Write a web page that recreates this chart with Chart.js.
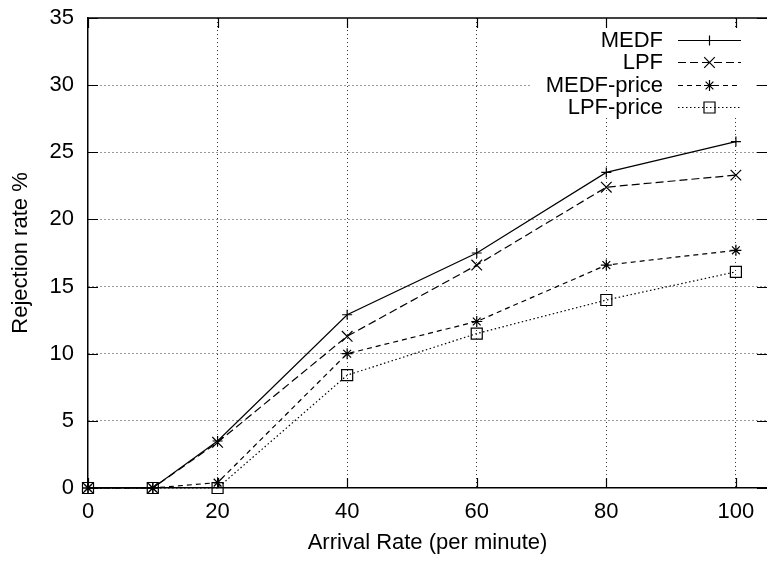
<!DOCTYPE html>
<html><head><meta charset="utf-8">
<script src="https://cdn.jsdelivr.net/npm/chart.js@4.4.0/dist/chart.umd.min.js"></script>
<style>html,body{margin:0;padding:0;background:#fff;overflow:hidden}canvas{display:block}</style>
</head><body>
<canvas id="c" width="767" height="562"></canvas>
<script>
const arrivalRates = [0, 10, 20, 40, 60, 80, 100];
const medf = [0, 0, 3.5, 12.9, 17.5, 23.5, 25.8];
const lpf = [0, 0, 3.4, 11.3, 16.6, 22.4, 23.3];
const medfPrice = [0, 0, 0.4, 10.0, 12.4, 16.6, 17.7];
const lpfPrice = [0, 0, 0, 8.4, 11.5, 14.0, 16.1];
const seriesLabels = ['MEDF', 'LPF', 'MEDF-price', 'LPF-price'];
const xTickValues = [0, 20, 40, 60, 80, 100];
const yTickValues = [0, 5, 10, 15, 20, 25, 30, 35];
const xTitle = 'Arrival Rate (per minute)';
const yTitle = 'Rejection rate %';

const FONT = {family: "'Liberation Sans', Arial, sans-serif", size: 22};
const pts = arr => arrivalRates.map((x, i) => ({x: x, y: arr[i]}));

const styles = [
  {borderDash: [], pointStyle: 'cross', pointRadius: 5},
  {borderDash: [8, 4], pointStyle: 'crossRot', pointRadius: 7.5},
  {borderDash: [5, 4], pointStyle: 'star', pointRadius: 5.5},
  {borderDash: [1.5, 2.5], pointStyle: 'rect', pointRadius: 7.8}
];
const seriesData = [medf, lpf, medfPrice, lpfPrice];

const datasets = seriesData.map((arr, i) => ({
  label: seriesLabels[i],
  data: pts(arr),
  borderColor: '#000',
  borderWidth: 1.2,
  borderDash: styles[i].borderDash,
  pointStyle: styles[i].pointStyle,
  pointRadius: styles[i].pointRadius,
  pointBorderColor: '#000',
  pointBackgroundColor: 'rgba(0,0,0,0)',
  pointBorderWidth: 1.2,
  tension: 0,
  fill: false,
  clip: false
}));

const gnuplotFrame = {
  id: 'gnuplotFrame',
  afterDraw(chart) {
    const {ctx, chartArea: a, scales} = chart;
    const x = scales.x, y = scales.y;
    ctx.save();
    ctx.setLineDash([]);
    ctx.strokeStyle = '#000';
    ctx.lineWidth = 1.5;
    ctx.beginPath();
    ctx.moveTo(a.left, a.top); ctx.lineTo(a.right, a.top);
    ctx.stroke();
    ctx.lineWidth = 1.2;
    ctx.beginPath();
    x.ticks.forEach(t => {
      const px = Math.round(x.getPixelForValue(t.value)) + 0.5;
      ctx.moveTo(px, a.bottom); ctx.lineTo(px, a.bottom - 10);
      ctx.moveTo(px, a.top); ctx.lineTo(px, a.top + 10);
    });
    y.ticks.forEach(t => {
      const py = Math.round(y.getPixelForValue(t.value)) + 0.5;
      ctx.moveTo(a.left, py); ctx.lineTo(a.left + 10, py);
      ctx.moveTo(a.right, py); ctx.lineTo(a.right - 10, py);
    });
    ctx.stroke();

    // key box (gnuplot style, opaque)
    ctx.fillStyle = '#fff';
    ctx.fillRect(530, 29, 225, 88);
    ctx.font = '22px ' + FONT.family;
    ctx.textAlign = 'right';
    ctx.textBaseline = 'middle';
    chart.data.datasets.forEach((ds, i) => {
      const ry = 39.5 + 22.5 * i;
      ctx.fillStyle = '#000';
      ctx.fillText(ds.label, 663, ry + 1);
      ctx.strokeStyle = '#000';
      ctx.lineWidth = ds.borderWidth;
      ctx.setLineDash(ds.borderDash);
      ctx.beginPath();
      ctx.moveTo(678, Math.round(ry) + 0.5); ctx.lineTo(741, Math.round(ry) + 0.5);
      ctx.stroke();
      ctx.setLineDash([]);
      ctx.fillStyle = 'rgba(0,0,0,0)';
      ctx.lineWidth = ds.pointBorderWidth;
      Chart.helpers.drawPoint(ctx, {pointStyle: ds.pointStyle, radius: ds.pointRadius, rotation: 0, borderWidth: ds.pointBorderWidth}, 709.5, Math.round(ry) + 0.5);
    });
    ctx.restore();
  }
};

const gridColor = edgeVals => c => (c.tick && edgeVals.includes(c.tick.value)) ? 'rgba(0,0,0,0)' : 'rgba(0,0,0,0.8)';

new Chart(document.getElementById('c'), {
  type: 'line',
  data: {datasets: datasets},
  options: {
    responsive: false,
    animation: false,
    events: [],
    layout: {autoPadding: false, padding: {top: 18, left: 0, right: 0, bottom: 0}},
    plugins: {legend: {display: false}, tooltip: {enabled: false}},
    scales: {
      x: {
        type: 'linear', min: 0, max: 104.8,
        afterBuildTicks: s => { s.ticks = xTickValues.map(v => ({value: v})); },
        afterFit: s => { s.height = 74; s.paddingLeft = 0; s.paddingRight = 0; },
        grid: {color: gridColor([0]), lineWidth: 1, drawTicks: false},
        border: {display: true, color: '#000', width: 1.5, dash: [1, 3]},
        ticks: {color: '#000', font: FONT, padding: 11, maxRotation: 0, autoSkip: false},
        title: {display: true, text: xTitle, color: '#000', font: FONT, padding: {top: 0, bottom: 6}}
      },
      y: {
        type: 'linear', min: 0, max: 35,
        afterBuildTicks: s => { s.ticks = yTickValues.map(v => ({value: v})); },
        afterFit: s => { s.width = 88; s.paddingTop = 0; s.paddingBottom = 0; },
        grid: {color: gridColor([0, 35]), lineWidth: 1, drawTicks: false},
        border: {display: true, color: '#000', width: 1.5, dash: [1, 3]},
        ticks: {color: '#000', font: FONT, padding: 14, autoSkip: false},
        title: {display: true, text: yTitle, color: '#000', font: FONT, padding: {top: 8, bottom: 0}}
      }
    }
  },
  plugins: [gnuplotFrame]
});
</script>
</body></html>
